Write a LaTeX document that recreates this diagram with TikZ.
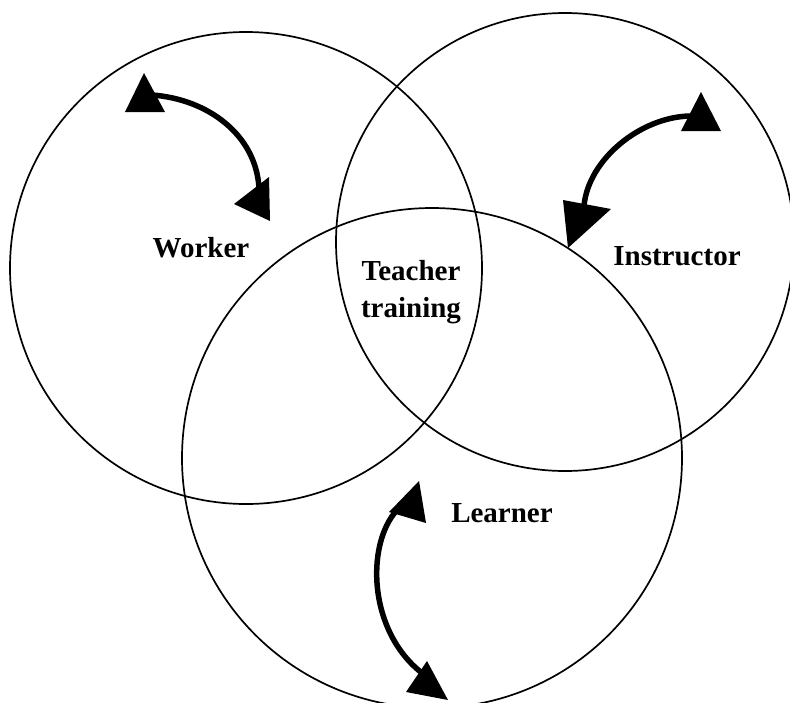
\documentclass[tikz,border=0pt]{standalone}
\usepackage{fontspec}
\setmainfont{Liberation Serif}
\begin{document}
\begin{tikzpicture}[x=1pt,y=-1pt,
  ring/.style={draw=black, line width=1.7pt, circle, inner sep=0pt},
  lbl/.style={font=\fontsize{29}{33}\selectfont\bfseries, inner sep=0pt, anchor=base},
  arc/.style={line width=5.5pt},
  head/.style={fill=black, draw=none}]
\useasboundingbox (0,0) rectangle (790,702);
\fill[white] (0,0) rectangle (790,702);
% circles
\node[ring, minimum size=472pt] (worker) at (246,268) {};
\node[ring, minimum size=458pt] (instr) at (565,242) {};
\node[ring, minimum size=500pt] (learn) at (432,458) {};
% labels
\node[lbl] (tw) at (201,257) {Worker};
\node[lbl] (ti) at (677,265) {Instructor};
\node[lbl] (tl) at (502,522) {Learner};
\node[lbl] (tt1) at (411,280) {Teacher};
\node[lbl] (tt2) at (411,317) {training};
% worker arrow
\coordinate (w1) at (152,95);
\coordinate (w2) at (259,188);
\draw[arc] (w1) .. controls (208,99) and (256,135) .. (w2);
\fill[head] (144,73) -- (125,112) -- (165,112) -- cycle;
\fill[head] (270,221) -- (234,204) -- (269,177) -- cycle;
% instructor arrow
\coordinate (i1) at (690,116);
\coordinate (i2) at (584,206);
\draw[arc] (i1) .. controls (640,117) and (588,160) .. (i2);
\fill[head] (701,92) -- (681,131) -- (721,131) -- cycle;
\fill[head] (568,248) -- (563,200) -- (611,209) -- cycle;
% learner arrow
\coordinate (l1) at (397,510);
\coordinate (l2) at (426,676);
\draw[arc] (l1) .. controls (365,545) and (368,635) .. (l2);
\fill[head] (419,481) -- (389,512) -- (426,523) -- cycle;
\fill[head] (427,661) -- (406,692) -- (448,700) -- cycle;
\end{tikzpicture}
\end{document}
